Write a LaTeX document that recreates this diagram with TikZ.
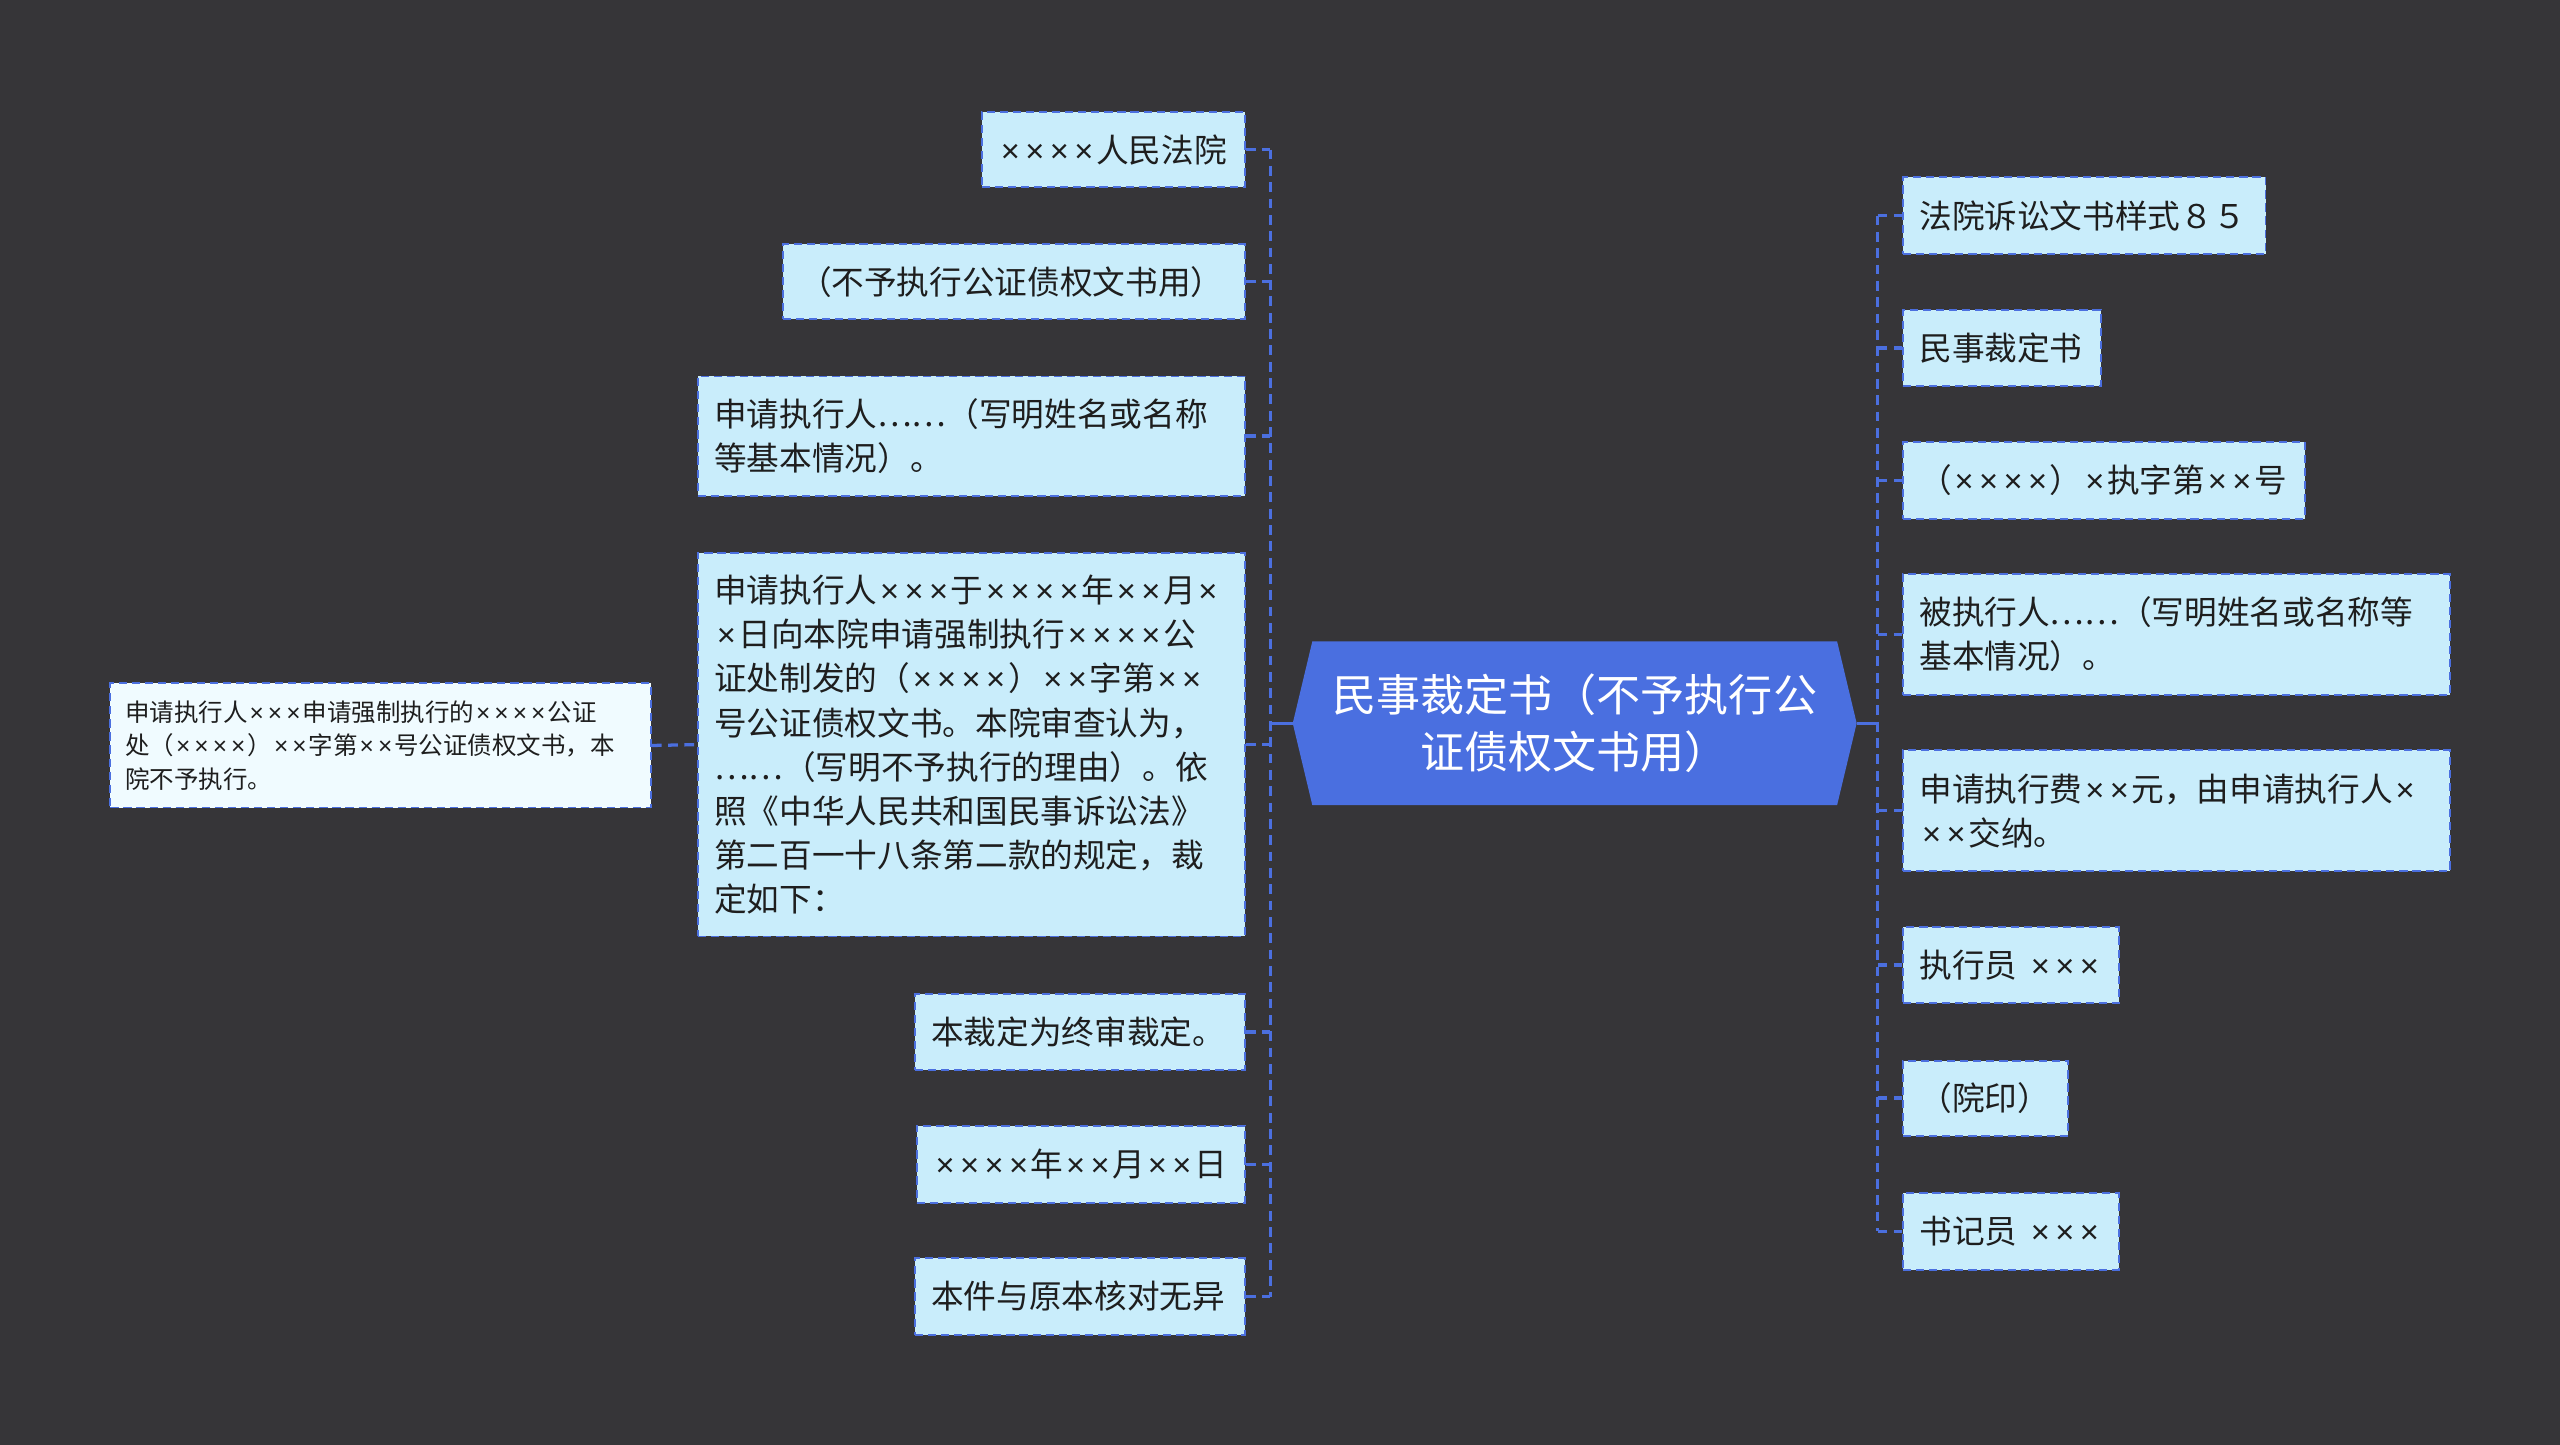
\documentclass[tikz,border=0pt]{standalone}
\usepackage{fontspec}
\setmainfont{Noto Sans CJK SC}
\newfontfamily\liberx{Liberation Sans}
\newcommand\X{\makebox[0.75em][c]{\liberx ×}}
\usetikzlibrary{backgrounds}
\definecolor{bgdark}{RGB}{54,53,56}
\definecolor{boxfill}{RGB}{201,237,251}
\definecolor{boxlight}{RGB}{240,251,255}
\definecolor{lineblue}{RGB}{75,111,223}
\definecolor{rootblue}{RGB}{74,111,224}
\definecolor{textdark}{RGB}{30,30,30}
\tikzset{
  leaf/.style={draw=lineblue, dash pattern=on 5pt off 3pt, line width=1.2pt, fill=boxfill,
    text=textdark, font=\fontsize{20pt}{27pt}\selectfont, inner xsep=10pt, inner ysep=0pt, align=left},
  leafsmall/.style={leaf, fill=boxlight, font=\fontsize{15pt}{20.5pt}\selectfont, inner xsep=9pt},
  conn/.style={draw=lineblue, line width=2pt, dash pattern=on 6pt off 4pt},
  rootconn/.style={draw=lineblue, line width=2pt},
}
\begin{document}
\begin{tikzpicture}[x=1pt,y=-1pt]
\useasboundingbox (0,0) rectangle (1568,885);
\begin{scope}[on background layer]
\fill[bgdark] (0,0) rectangle (1568,885);
\end{scope}

% root
\node[text=white, font=\fontsize{27pt}{35pt}\selectfont, align=center, minimum width=345pt, minimum height=100pt, inner sep=0pt]
  (root) at (964.5,443) {民事裁定书（不予执行公\\证债权文书用）};
\begin{scope}[on background layer]
\fill[rootblue] (root.west) -- ([xshift=12pt]root.north west) -- ([xshift=-12pt]root.north east)
  -- (root.east) -- ([xshift=-12pt]root.south east) -- ([xshift=12pt]root.south west) -- cycle;
\end{scope}

% left side
\node[leaf, anchor=north east, text width=141pt, minimum height=46pt] (l1) at (763,68) {\X\X\X\X 人民法院};
\node[leaf, anchor=north east, text width=263pt, minimum height=46pt] (l2) at (763,149) {（不予执行公证债权文书用）};
\node[leaf, anchor=north east, text width=315pt, minimum height=73pt] (l3) at (763,230) {申请执行人……（写明姓名或名称\\等基本情况）。};
\node[leaf, anchor=north east, text width=315pt, minimum height=235pt] (l4) at (763,338) {申请执行人\X\X\X 于\X\X\X\X 年\X\X 月\X\\\X 日向本院申请强制执行\X\X\X\X 公\\证处制发的（\X\X\X\X）\X\X 字第\X\X\\号公证债权文书。本院审查认为，\\……（写明不予执行的理由）。依\\照《中华人民共和国民事诉讼法》\\第二百一十八条第二款的规定，裁\\定如下：};
\node[leaf, anchor=north east, text width=182pt, minimum height=47pt] (l5) at (763,608) {本裁定为终审裁定。};
\node[leaf, anchor=north east, text width=181pt, minimum height=47pt] (l6) at (763,689) {\X\X\X\X 年\X\X 月\X\X 日};
\node[leaf, anchor=north east, text width=182pt, minimum height=47pt] (l7) at (763,770) {本件与原本核对无异};

\node[leafsmall, anchor=north west, text width=313pt, minimum height=76pt] (fl) at (67,418) {申请执行人\X\X\X 申请强制执行的\X\X\X\X 公证\\处（\X\X\X\X）\X\X 字第\X\X 号公证债权文书，本\\院不予执行。};

% right side
\node[leaf, anchor=north west, text width=202pt, minimum height=47pt] (r1) at (1165,108) {法院诉讼文书样式８５};
\node[leaf, anchor=north west, text width=101pt, minimum height=47pt] (r2) at (1165,189) {民事裁定书};
\node[leaf, anchor=north west, text width=226pt, minimum height=47pt] (r3) at (1165,270) {（\X\X\X\X）\X 执字第\X\X 号};
\node[leaf, anchor=north west, text width=315pt, minimum height=74pt] (r4) at (1165,351) {被执行人……（写明姓名或名称等\\基本情况）。};
\node[leaf, anchor=north west, text width=315pt, minimum height=74pt] (r5) at (1165,459) {申请执行费\X\X 元，由申请执行人\X\\\X\X 交纳。};
\node[leaf, anchor=north west, text width=112pt, minimum height=47pt] (r6) at (1165,567) {执行员~\X\X\X};
\node[leaf, anchor=north west, text width=81pt, minimum height=46pt] (r7) at (1165,649) {（院印）};
\node[leaf, anchor=north west, text width=112pt, minimum height=47pt] (r8) at (1165,730) {书记员~\X\X\X};

% connectors
\coordinate (lt) at (778,443);
\coordinate (rt) at (1150,443);
\draw[rootconn] (root.west) -- (lt);
\draw[rootconn] (root.east) -- (rt);
\draw[conn] (lt |- l1.east) -- (lt |- l7.east);
\draw[conn] (rt |- r1.west) -- (rt |- r8.west);
\foreach \n in {l1,l2,l3,l4,l5,l6,l7} { \draw[conn] (\n.east) -- (lt |- \n.east); }
\foreach \n in {r1,r2,r3,r4,r5,r6,r7,r8} { \draw[conn] (rt |- \n.west) -- (\n.west); }
\draw[conn] (fl.east) -- (l4.west);
\end{tikzpicture}
\end{document}
